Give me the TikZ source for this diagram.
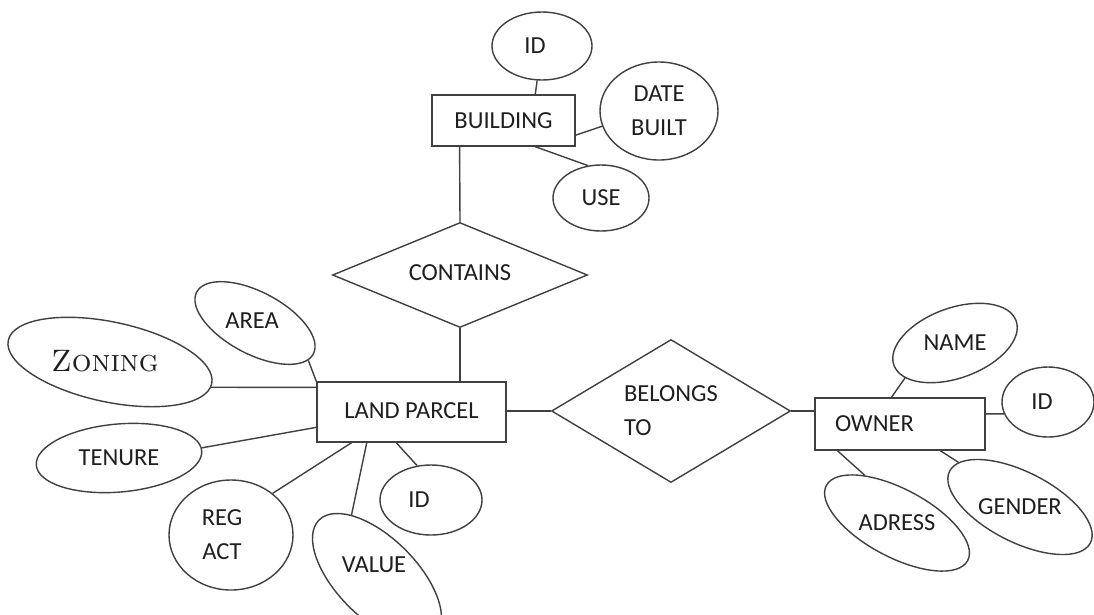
\documentclass[tikz,border=0pt]{standalone}
\usepackage{fontspec}
\newfontfamily\carl{Carlito}
\usetikzlibrary{shapes.geometric,calc}
% text in a rotated node, turned back upright, with zero size; #2,#3 shift it
\newcommand{\rt}[4]{\rotatebox{#1}{\makebox[0pt]{\hspace*{\dimexpr 2\dimexpr#2\relax\relax}\raisebox{\dimexpr#3-.322em\relax}[0pt][0pt]{#4}}}}
\tikzset{
  ln/.style={draw=black!75, line width=1.4pt},
  lbl/.style={font=\carl\fontsize{24.5}{34}\selectfont, text=black!88},
  ent/.style={rectangle, ln, lbl, inner sep=0pt},
  att/.style={ellipse, ln, lbl, inner sep=0pt},
  rel/.style={diamond, ln, lbl, inner sep=0pt},
  link/.style={draw=black!75, line width=1.4pt},
}
\begin{document}
\begin{tikzpicture}[x=1pt, y=-1pt]
\fill[white] (0,0) rectangle (1094,614);
\useasboundingbox (0,0) rectangle (1094,614);

% BUILDING and its attributes
\node[ent, minimum width=143pt, minimum height=51pt] (bld) at (503.5,120.5) {BUILDING};
\node[att, minimum width=100pt, minimum height=68pt] (bid) at (542,46) {ID\kern14pt};
\node[att, minimum width=118pt, minimum height=98pt, align=center] (dat) at (659,111) {DATE\\BUILT};
\node[att, minimum width=96pt, minimum height=66pt] (use) at (601,198) {USE};

% CONTAINS
\node[rel, minimum width=255pt, minimum height=105pt, aspect=2.43] (con) at (460,275) {\raisebox{4pt}{CONTAINS}};

% LAND PARCEL and its attributes
\node[ent, minimum width=189pt, minimum height=60pt] (lp) at (411.5,412) {\raisebox{3pt}{LAND PARCEL}};
\node[att, minimum width=208pt, minimum height=80pt, rotate=-12] (zon) at (110,362)
  {\rt{12}{-5pt}{-2pt}{\rmfamily\fontsize{31}{31}\selectfont\textsc{Zoning}}};
\node[att, minimum width=132pt, minimum height=62pt, rotate=-28] (area) at (255,323) {\rt{28}{-3pt}{2pt}{AREA}};
\node[att, minimum width=166pt, minimum height=68pt, rotate=5] (ten) at (119,458) {\rt{-5}{0pt}{0pt}{TENURE}};
\node[att, minimum width=124pt, minimum height=110pt, align=center] (reg) at (231,535) {REG\kern18pt\\ACT\kern18pt};
\node[att, minimum width=164pt, minimum height=80pt, rotate=-45] (val) at (377,578) {\rt{45}{-3pt}{13pt}{VALUE}};
\node[att, minimum width=102pt, minimum height=70pt] (lid) at (431,500) {ID\kern24pt};

% BELONGS TO
\node[rel, minimum width=239pt, minimum height=143pt, aspect=1.67, align=left] (bel) at (671,411) {BELONGS\\TO};

% OWNER and its attributes
\node[ent, minimum width=170pt, minimum height=52pt, inner xsep=20pt, text width=130pt, align=left] (own) at (900,424) {OWNER};
\node[att, minimum width=130pt, minimum height=70pt, rotate=20] (nam) at (955,343) {\rt{-20}{0pt}{0pt}{NAME}};
\node[att, minimum width=92pt, minimum height=70pt] (oid) at (1048,402) {ID\kern12pt};
\node[att, minimum width=160pt, minimum height=68pt, rotate=-28] (adr) at (897,523) {\rt{28}{0pt}{0pt}{ADRESS}};
\node[att, minimum width=158pt, minimum height=70pt, rotate=-27] (gen) at (1020,507) {\rt{27}{0pt}{0pt}{GENDER}};

% connectors
\draw[link] (bid.262) -- ($(bld.north west)!0.72!(bld.north east)$);
\draw[link] (dat.195) -- ($(bld.north east)!0.78!(bld.south east)$);
\draw[link] (use.112) -- ($(bld.south west)!0.72!(bld.south east)$);
\draw[link] ($(bld.south west)!0.196!(bld.south east)$) -- (con.north);
\draw[link] (con.south) -- (con.south |- lp.north);
\draw[link] (area.-7) -- (lp.north west);
\draw[link] (zon.-2) -- ($(lp.north west)!0.1!(lp.south west)$);
\draw[link] (ten.2) -- ($(lp.north west)!0.75!(lp.south west)$);
\draw[link] (reg.45) -- ($(lp.south west)!0.185!(lp.south east)$);
\draw[link] (val.157) -- ($(lp.south west)!0.265!(lp.south east)$);
\draw[link] (lid.112) -- ($(lp.south west)!0.42!(lp.south east)$);
\draw[link] (lp.east |- bel.west) -- (bel.west);
\draw[link] (bel.east) -- (bel.east -| own.west);
\draw[link] (nam.195) -- ($(own.north west)!0.45!(own.north east)$);
\draw[link] (oid.195) -- ($(own.north east)!0.31!(own.south east)$);
\draw[link] (adr.152) -- ($(own.south west)!0.135!(own.south east)$);
\draw[link] (gen.171) -- ($(own.south west)!0.735!(own.south east)$);
\end{tikzpicture}
\end{document}
